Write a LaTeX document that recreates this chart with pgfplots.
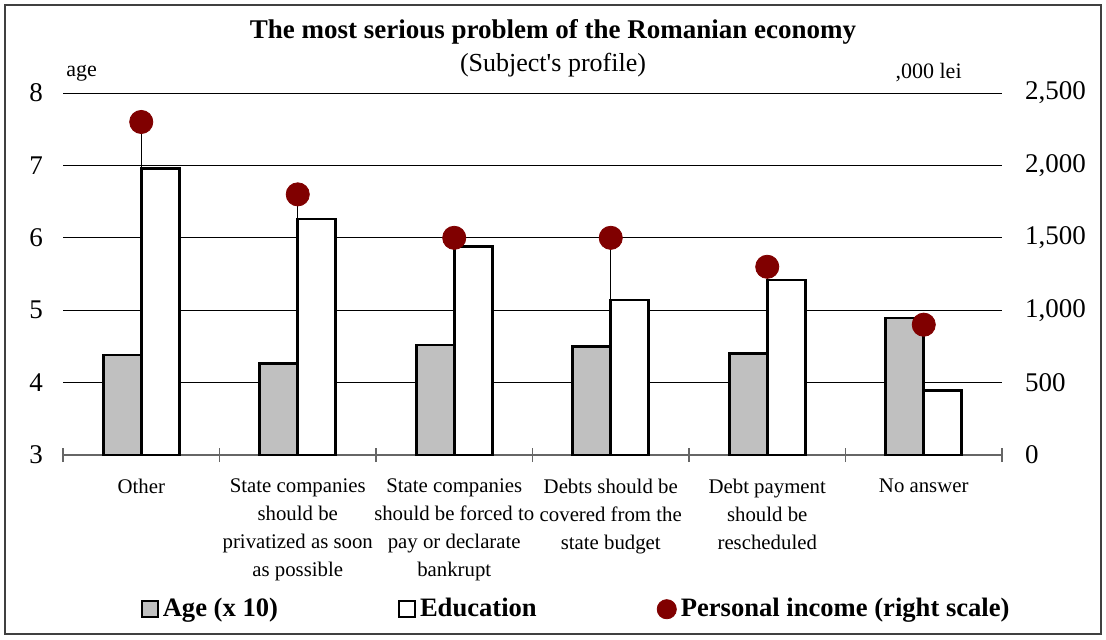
\documentclass[border=0pt]{standalone}
\usepackage{pgfplots}
\pgfplotsset{compat=1.18}
\usepackage{fontspec}
\setmainfont{Liberation Serif}
\definecolor{silverbar}{HTML}{C0C0C0}
\definecolor{maroondot}{HTML}{800000}
\begin{document}
\begin{tikzpicture}
\useasboundingbox (0,0) rectangle (553pt,-319.5pt);
\draw[line width=0.7pt, black!75] (2.5pt,-2.5pt) rectangle (550.5pt,-317pt);
\pgfplotsset{
  base/.style={
    scale only axis, width=469.5pt, height=181pt,
    at={(31.5pt,-227.5pt)}, anchor=south west,
    xmin=-0.5, xmax=5.5,
  }
}
% drop lines (right scale)
\begin{axis}[base, ymin=0, ymax=2500, hide axis]
\addplot[ycomb, black, line width=0.6pt, mark=none] coordinates {(0,2300) (1,1800) (2,1500) (3,1500) (4,1300) (5,900)};
\end{axis}
% bars (left scale)
\begin{axis}[base, ymin=3, ymax=8,
  ybar=0pt, bar width=19pt,
  axis x line*=bottom, axis y line*=left,
  x axis line style={black!60, line width=0.6pt},
  y axis line style={draw=none},
  ytick={3,4,5,6,7,8},
  ymajorgrids, grid style={black, line width=0.5pt},
  xtick={0,1,2,3,4,5},
  xticklabels={Other, State companies\\should be\\privatized as soon\\as possible, State companies\\should be forced to\\pay or declarate\\bankrupt, Debts should be\\covered from the\\state budget, Debt payment\\should be\\rescheduled, No answer},
  minor xtick={-0.5,0.5,1.5,2.5,3.5,4.5,5.5},
  major tick length=0pt, minor tick length=7pt, tick align=center,
  minor tick style={black!60, line width=0.6pt},
  xticklabel style={align=center, font=\fontsize{10.4}{14}\selectfont, yshift=-8.5pt},
  yticklabel style={font=\fontsize{13.5}{16}\selectfont, xshift=-6.5pt},
  /pgf/number format/assume math mode=true,
  legend columns=3,
  legend style={draw=none, fill=none, at={(0.076,-0.426)}, anchor=west,
    font=\bfseries\fontsize{13.3}{16}\selectfont,
    /tikz/every even column/.append style={column sep=58pt}},
]
\addplot[fill=silverbar, draw=black, line width=1.3pt,
  legend image code/.code={\draw[fill=silverbar,draw=black,line width=1pt] (0pt,-4pt) rectangle (8pt,4pt);}]
  coordinates {(0,4.38) (1,4.26) (2,4.52) (3,4.50) (4,4.40) (5,4.89)};
\addplot[fill=white, draw=black, line width=1.3pt,
  legend image code/.code={\draw[fill=white,draw=black,line width=1pt] (0pt,-4pt) rectangle (8pt,4pt);}]
  coordinates {(0,6.96) (1,6.26) (2,5.88) (3,5.14) (4,5.42) (5,3.89)};
\addlegendimage{legend image code/.code={\fill[maroondot] (4.8pt,0pt) circle (4.8pt);}}
\legend{Age (x 10), Education, Personal income (right scale)}
\end{axis}
% dots (right scale)
\begin{axis}[base, ymin=0, ymax=2500,
  axis y line*=right, axis x line=none,
  y axis line style={draw=none},
  ytick={0,500,1000,1500,2000,2500}, major tick length=0pt,
  scaled y ticks=false,
  yticklabel style={font=\fontsize{13.5}{16}\selectfont, xshift=8pt},
  /pgf/number format/1000 sep={,},
  /pgf/number format/assume math mode=true,
  clip=false,
]
\addplot[only marks, mark=*, mark size=5.8pt, color=maroondot] coordinates {(0,2300) (1,1800) (2,1500) (3,1500) (4,1300) (5,900)};
\end{axis}
\node[font=\bfseries\fontsize{13.5}{16}\selectfont] at (276.5pt,-16pt) {The most serious problem of the Romanian economy};
\node[font=\fontsize{13}{15}\selectfont] at (276.5pt,-32.5pt) {(Subject\textquotesingle s profile)};
\node[font=\fontsize{11}{13}\selectfont, anchor=west, inner sep=0pt] at (33pt,-36.5pt) {age};
\node[font=\fontsize{11}{13}\selectfont, anchor=east, inner sep=0pt] at (481pt,-36.5pt) {,000 lei};
\end{tikzpicture}
\end{document}
